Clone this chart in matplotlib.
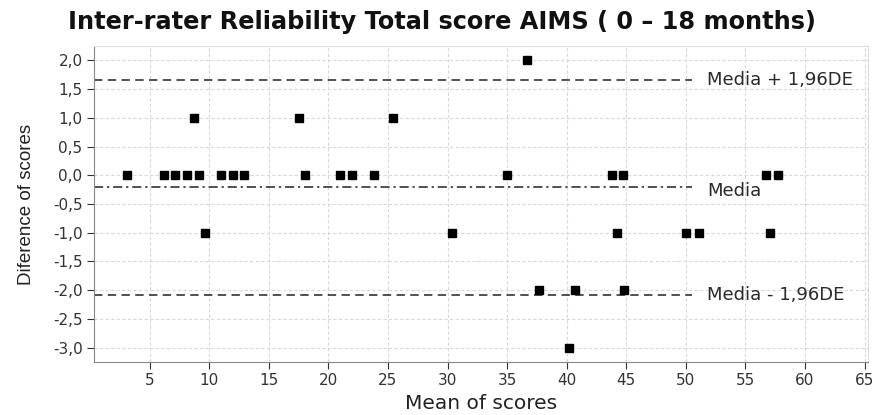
import numpy as np
import matplotlib
matplotlib.use("Agg")
import matplotlib.pyplot as plt
from matplotlib.ticker import FuncFormatter, MultipleLocator

# mean of the two raters' scores, difference between them
mean_scores = [3.1, 6.2, 7.1, 8.1, 9.1, 11.0, 12.0, 12.9, 18.0, 21.0, 22.0, 23.8,
               35.0, 43.8, 44.7, 56.7, 57.7,
               8.7, 17.5, 25.4,
               36.7,
               9.6, 30.4, 44.2, 50.0, 51.1, 57.1,
               37.7, 40.7, 44.8,
               40.2]
diff_scores = [0, 0, 0, 0, 0, 0, 0, 0, 0, 0, 0, 0,
               0, 0, 0, 0, 0,
               1, 1, 1,
               2,
               -1, -1, -1, -1, -1, -1,
               -2, -2, -2,
               -3]

mean_diff = -0.21
upper_loa = 1.66
lower_loa = -2.09
line_end = 50.5

title = "Inter-rater Reliability Total score AIMS ( 0 \u2013 18 months)"

plt.rcParams["font.family"] = ["DejaVu Sans"]

fig = plt.figure(figsize=(8.76, 4.15), dpi=100)
ax = fig.add_axes([0.107, 0.128, 0.884, 0.761])

ax.set_xlim(0.3, 65.3)
ax.set_ylim(-3.25, 2.25)

ax.grid(True, color="#d8d8d8", linestyle=(0, (3, 2)), linewidth=0.8)
ax.set_axisbelow(True)

ax.plot([0.3, line_end], [upper_loa, upper_loa], color="#222222", lw=1.1,
        dashes=(5.5, 3.5))
ax.plot([0.3, line_end], [mean_diff, mean_diff], color="#222222", lw=1.1,
        dashes=(6, 2.5, 1.5, 2.5))
ax.plot([0.3, line_end], [lower_loa, lower_loa], color="#222222", lw=1.1,
        dashes=(5.5, 3.5))

lab_kw = dict(fontsize=13, color="#2a2a2a", va="center", ha="left")
ax.text(51.8, upper_loa, "Media + 1,96DE", **lab_kw)
ax.text(51.8, mean_diff - 0.06, "Media", **lab_kw)
ax.text(51.8, lower_loa, "Media - 1,96DE", **lab_kw)

ax.plot(mean_scores, diff_scores, linestyle="none", marker="s", ms=5.8,
        color="black")

ax.xaxis.set_major_locator(MultipleLocator(5))
ax.yaxis.set_major_locator(MultipleLocator(0.5))
ax.yaxis.set_major_formatter(FuncFormatter(lambda v, p: f"{v:.1f}".replace(".", ",")))
ax.tick_params(labelsize=11, colors="#333333", length=5, width=0.8, pad=3)

for side in ["left", "bottom"]:
    ax.spines[side].set_color("#888888")
for side in ["top", "right"]:
    ax.spines[side].set_color("#dddddd")

ax.set_xlabel("Mean of scores", fontsize=14.5, color="#222222", labelpad=4)
ax.set_ylabel("Diference of scores", fontsize=13.5, color="#222222", labelpad=13,
              family="Liberation Sans")
fig.text(0.505, 0.947, title, ha="center", va="center", fontsize=17.3,
         fontweight="bold", color="#111111")

fig.savefig("out.png", dpi=100)
